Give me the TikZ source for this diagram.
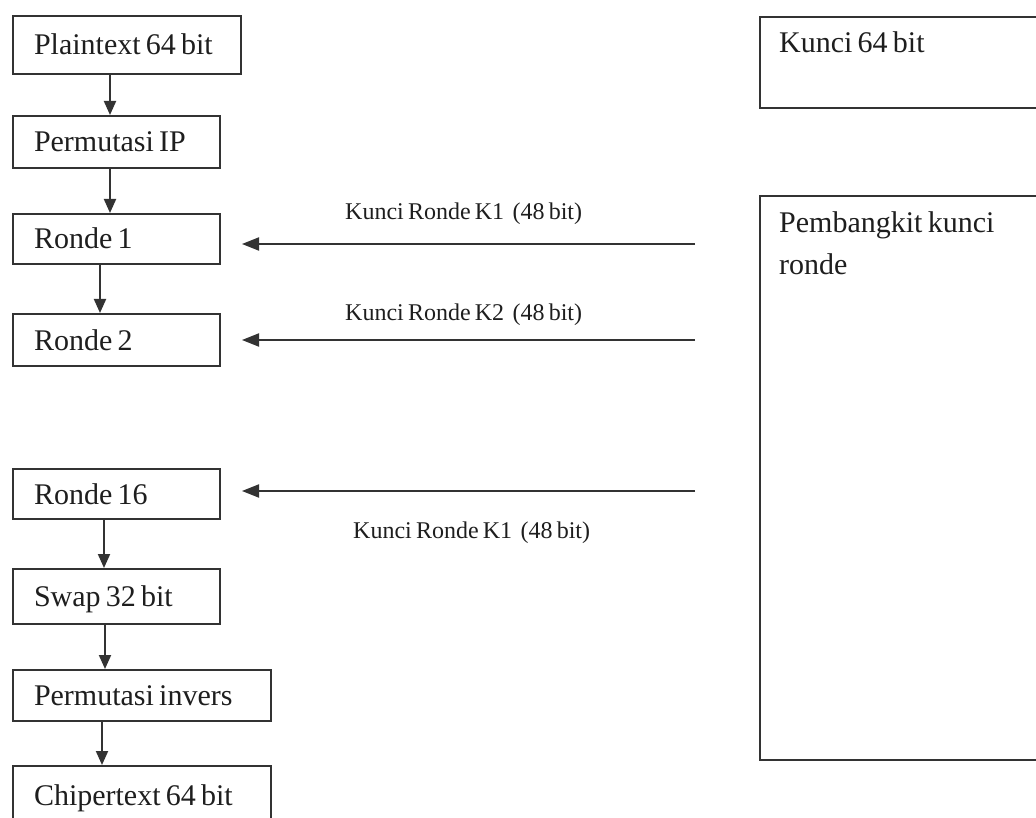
\documentclass[tikz,border=0pt]{standalone}
\usepackage{fontspec}
\setmainfont[WordSpace=0.7]{Liberation Serif}
\usetikzlibrary{arrows.meta}
\definecolor{ink}{HTML}{1E1E1E}
\definecolor{edge}{HTML}{333333}
% left-aligned label of fixed width inside a box
\newcommand\leftlabel[2]{\makebox[#1][l]{#2}}
\begin{document}
\begin{tikzpicture}[x=1pt,y=-1pt,
  stage/.style={draw=edge, line width=2pt, anchor=north west, inner xsep=21pt, inner ysep=0pt,
    text height=20pt, text depth=0pt, text=ink,
    font=\fontsize{30}{34}\selectfont},
  panel/.style={draw=edge, line width=2pt, anchor=north west, inner sep=0pt},
  paneltext/.style={anchor=base west, inner sep=0pt, text=ink, font=\fontsize{30}{34}\selectfont},
  keylabel/.style={anchor=base west, inner sep=0pt, text=ink, font=\fontsize{24}{28}\selectfont},
  flow/.style={draw=edge, line width=2pt, -{Triangle[length=14pt,width=12pt]}},
  keyarrow/.style={draw=edge, line width=2pt, -{Triangle[length=17pt,width=13pt]}, shorten >=21pt}]
\useasboundingbox (0,0) rectangle (1036,818);
\clip (0,0) rectangle (1036,818);

% encryption chain
\node[stage, minimum height=58pt] (pt) at (12,15) {\leftlabel{186pt}{Plaintext 64 bit}};
\node[stage, minimum height=52pt] (ip) at (12,115) {\leftlabel{165pt}{Permutasi IP}};
\node[stage, minimum height=50pt] (r1) at (12,213) {\leftlabel{165pt}{Ronde 1}};
\node[stage, minimum height=52pt] (r2) at (12,313) {\leftlabel{165pt}{Ronde 2}};
\node[stage, minimum height=50pt] (r16) at (12,468) {\leftlabel{165pt}{Ronde 16}};
\node[stage, minimum height=55pt] (sw) at (12,568) {\leftlabel{165pt}{Swap 32 bit}};
\node[stage, minimum height=51pt] (pinv) at (12,669) {\leftlabel{216pt}{Permutasi invers}};
\node[stage, minimum height=58pt] (ct) at (12,765) {\leftlabel{216pt}{Chipertext 64 bit}};

\draw[flow] (pt.south -| 110,0) -- (ip.north -| 110,0);
\draw[flow] (ip.south -| 110,0) -- (r1.north -| 110,0);
\draw[flow] (r1.south -| 100,0) -- (r2.north -| 100,0);
\draw[flow] (r16.south -| 104,0) -- (sw.north -| 104,0);
\draw[flow] (sw.south -| 105,0) -- (pinv.north -| 105,0);
\draw[flow] (pinv.south -| 102,0) -- (ct.north -| 102,0);

% key schedule side
\node[panel, minimum width=300pt, minimum height=91pt] (key) at (759,16) {};
\node[paneltext] (keytxt) at (779,53) {Kunci 64 bit};
\node[panel, minimum width=300pt, minimum height=564pt] (gen) at (759,195) {};
\node[paneltext] (gentxt) at (779,233) {Pembangkit kunci};
\node[paneltext] (gentxt2) at (779,275) {ronde};

% round keys
\coordinate (k1) at (695,244);
\coordinate (k2) at (695,340);
\coordinate (k16) at (695,491);
\draw[keyarrow] (k1) -- (r1.east |- k1);
\draw[keyarrow] (k2) -- (r2.east |- k2);
\draw[keyarrow] (k16) -- (r16.east |- k16);
\node[keylabel] (l1) at (345,220) {Kunci Ronde K1\ \ (48 bit)};
\node[keylabel] (l2) at (345,320) {Kunci Ronde K2\ \ (48 bit)};
\node[keylabel] (l16) at (353,538) {Kunci Ronde K1\ \ (48 bit)};
\end{tikzpicture}
\end{document}
